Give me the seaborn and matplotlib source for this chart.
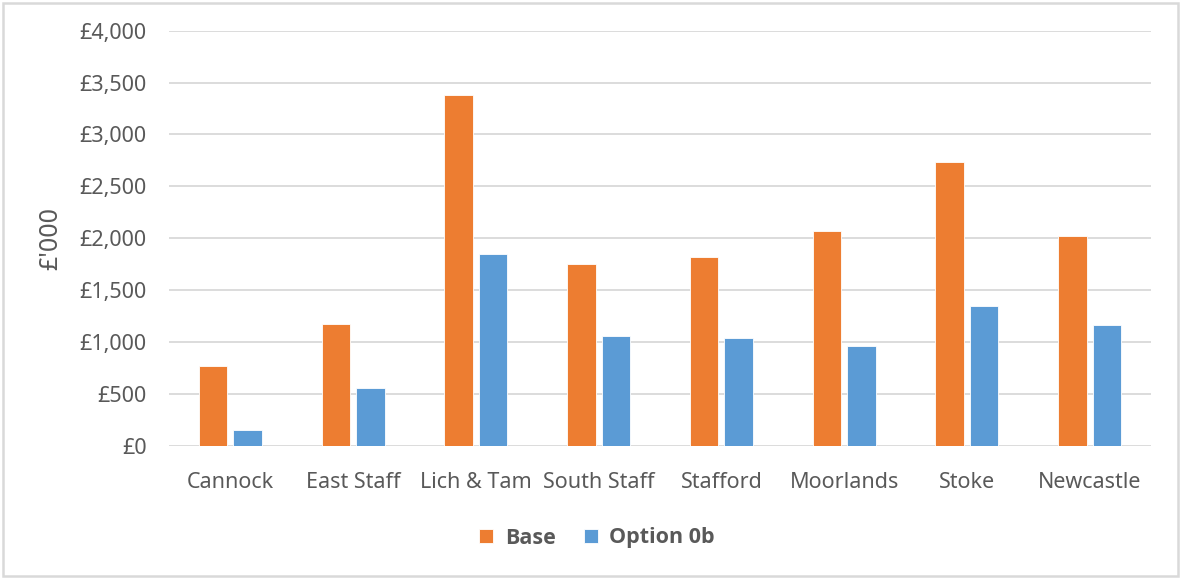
import matplotlib
matplotlib.use("Agg")
import matplotlib.pyplot as plt
from matplotlib.patches import Rectangle
from matplotlib.ticker import FuncFormatter, MultipleLocator
import seaborn as sns
import pandas as pd

# Annual cost per district (£'000)
districts = ["Cannock", "East Staff", "Lich & Tam", "South Staff",
             "Stafford", "Moorlands", "Stoke", "Newcastle"]
base = [765, 1175, 3380, 1755, 1815, 2070, 2735, 2020]
option_0b = [150, 560, 1843, 1062, 1040, 963, 1346, 1160]
series_names = ["Base", "Option 0b"]

df = pd.DataFrame({
    "District": districts * 2,
    "Series": [series_names[0]] * len(districts) + [series_names[1]] * len(districts),
    "Value": base + option_0b,
})

sns.set_theme(style="white")
plt.rcParams["font.family"] = ["Noto Sans", "DejaVu Sans"]

text_grey = "#595959"
grid_grey = "#D9D9D9"

fig = plt.figure(figsize=(11.81, 5.78), dpi=100)
ax = fig.add_axes([0.1431, 0.2289, 0.8315, 0.7180])

sns.barplot(
    data=df, x="District", y="Value", hue="Series",
    palette=["#ED7D31", "#5B9BD5"], saturation=1, width=0.565, gap=0.18,
    edgecolor="white", linewidth=0.6, ax=ax, legend=True,
)

ax.set_ylim(0, 4000)
ax.set_xlim(-0.5, len(districts) - 0.5)
ax.yaxis.set_major_locator(MultipleLocator(500))
ax.yaxis.set_major_formatter(FuncFormatter(lambda v, _: f"£{v:,.0f}"))
ax.grid(axis="y", color=grid_grey, linewidth=1.3)
ax.set_axisbelow(True)
for side in ["top", "right", "left", "bottom"]:
    ax.spines[side].set_visible(False)

ax.tick_params(axis="both", length=0, labelsize=15.5, colors=text_grey)
ax.tick_params(axis="x", pad=19)
ax.tick_params(axis="y", pad=16)
ax.set_xlabel("")
ax.set_ylabel("£'000", fontsize=18, color=text_grey, labelpad=12)

handles, labels = ax.get_legend_handles_labels()
ax.legend_.remove()
leg = fig.legend(
    handles, labels, loc="center", bbox_to_anchor=(597 / 1181, 1 - 538 / 578),
    ncol=2, frameon=False, handlelength=0.65, handleheight=0.65,
    handletextpad=0.55, columnspacing=1.3,
    prop={"family": ["Open Sans", "DejaVu Sans"], "size": 15.5, "weight": "bold"},
)
for t in leg.get_texts():
    t.set_color(text_grey)

# Chart frame
fig.add_artist(Rectangle((3 / 1181, 2 / 578), 1175 / 1181, 573 / 578,
                         transform=fig.transFigure, fill=False,
                         edgecolor=grid_grey, linewidth=1.8))

fig.savefig("out.png", dpi=100, facecolor="white")
